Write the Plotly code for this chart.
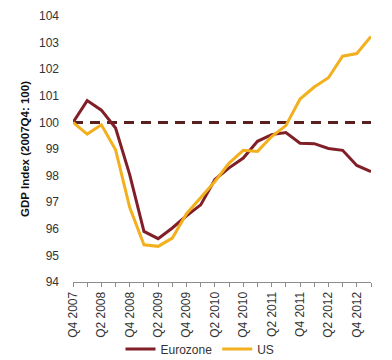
import plotly.graph_objects as go

quarters = ["Q4 2007", "Q1 2008", "Q2 2008", "Q3 2008", "Q4 2008", "Q1 2009", "Q2 2009",
            "Q3 2009", "Q4 2009", "Q1 2010", "Q2 2010", "Q3 2010", "Q4 2010", "Q1 2011",
            "Q2 2011", "Q3 2011", "Q4 2011", "Q1 2012", "Q2 2012", "Q3 2012", "Q4 2012", "Q1 2013"]
eurozone = [100, 100.82, 100.46, 99.79, 98.03, 95.9, 95.63, 96.03, 96.49, 96.9, 97.85, 98.29,
            98.66, 99.29, 99.54, 99.62, 99.22, 99.2, 99.02, 98.95, 98.38, 98.15]
us = [100, 99.56, 99.91, 98.97, 96.8, 95.4, 95.34, 95.65, 96.57, 97.16, 97.78, 98.47,
      98.95, 98.91, 99.47, 99.88, 100.88, 101.33, 101.68, 102.49, 102.59, 103.23]
baseline = [100] * len(quarters)
y_ticks = list(range(94, 105))

idx = list(range(len(quarters)))
tick_text = [q if i % 2 == 0 else "" for i, q in enumerate(quarters)]

fig = go.Figure()
fig.add_trace(go.Scatter(x=idx, y=baseline, mode="lines", showlegend=False,
                         line=dict(color="#5a1f1f", width=3, dash="10px,7px"), hoverinfo="skip"))
fig.add_trace(go.Scatter(x=idx, y=eurozone, mode="lines", name="Eurozone",
                         line=dict(color="#801f27", width=3)))
fig.add_trace(go.Scatter(x=idx, y=us, mode="lines", name="US",
                         line=dict(color="#f2b01e", width=3)))

# page body has an 8px default margin, so the figure is 8px smaller
fig.update_layout(
    width=384, height=352,
    margin=dict(l=65, r=21, t=8, b=78, autoexpand=False),
    paper_bgcolor="white", plot_bgcolor="white",
    font=dict(family="Arial, Liberation Sans, sans-serif", size=12, color="#333333"),
    showlegend=True,
    legend=dict(orientation="h", xref="container", x=0.5, xanchor="center", y=-0.252,
                yanchor="middle", font=dict(size=12, color="#333333"),
                itemwidth=30, bgcolor="rgba(0,0,0,0)"),
)
fig.update_xaxes(range=[0, len(quarters) - 1], tickvals=idx, ticktext=tick_text,
                 tickangle=-90, showgrid=False, zeroline=False, automargin=False,
                 showline=True, linecolor="#8c8c8c", linewidth=1,
                 ticks="outside", ticklen=4, tickcolor="#8c8c8c",
                 tickfont=dict(size=12, color="#333333"))
fig.update_yaxes(range=[94, 104], tickvals=y_ticks, showgrid=False, zeroline=False,
                 showline=False, ticks="", ticklabelstandoff=13, automargin=False,
                 tickfont=dict(size=12, color="#333333"),
                 title=dict(text="<b>GDP Index (2007Q4: 100)</b>", font=dict(size=11.5, color="#111111"),
                            standoff=6))

fig.write_html("out.html")
